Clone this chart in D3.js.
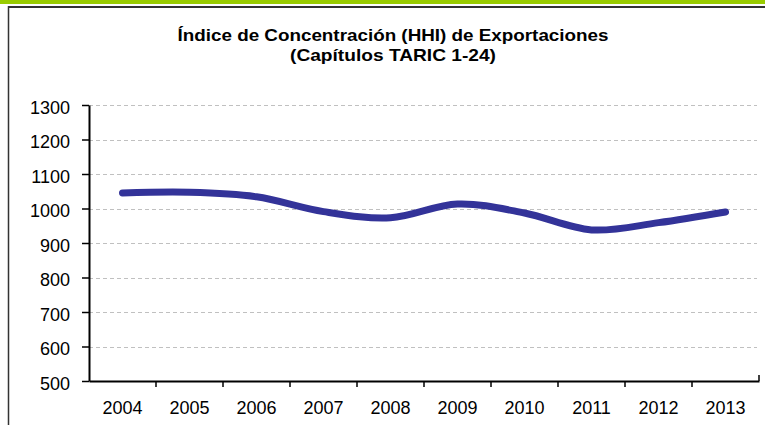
<!DOCTYPE html>
<html><head><meta charset="utf-8">
<script src="https://cdn.jsdelivr.net/npm/d3@7"></script>
<style>body{margin:0;background:#fff}svg{display:block}</style>
</head><body>
<svg id="c" width="765" height="425"></svg>
<script>
const years = ["2004","2005","2006","2007","2008","2009","2010","2011","2012","2013"];
const hhi = [1045, 1047, 1034, 991, 973, 1013, 987, 938, 959, 990];
const yTicks = [500,600,700,800,900,1000,1100,1200,1300];
const titleLines = ["Índice de Concentración (HHI) de Exportaciones", "(Capítulos TARIC 1-24)"];
const titleWidths = [431, 206];

const svg = d3.select("#c");
const W = 765, H = 425;
const m = {l: 89, r: 6, t: 105, b: 44};

svg.append("rect").attr("x",0).attr("y",0).attr("width",W).attr("height",4).attr("fill","#99cc00");
svg.append("line").attr("x1",8).attr("x2",W).attr("y1",7).attr("y2",7).attr("stroke","#333").attr("stroke-width",2);
svg.append("line").attr("x1",8.5).attr("x2",8.5).attr("y1",6).attr("y2",H).attr("stroke","#333").attr("stroke-width",1.5);

const x = d3.scaleBand().domain(years).range([m.l, W - m.r]);
const y = d3.scaleLinear().domain([500,1300]).range([H - m.b, m.t]);

// grid
svg.append("g").selectAll("line").data(yTicks.filter(d=>d>500)).join("line")
  .attr("x1", m.l).attr("x2", W - 8).attr("y1", d=>Math.round(y(d))+0.5).attr("y2", d=>Math.round(y(d))+0.5)
  .attr("stroke","#c0c0c0").attr("stroke-dasharray","4,3");

svg.append("g").selectAll("text").data(titleLines).join("text")
  .attr("x", 393).attr("y",(d,i)=>41 + i*20).attr("text-anchor","middle")
  .attr("font-family","Liberation Sans, Arial, sans-serif").attr("font-weight","bold").attr("font-size",17)
  .attr("textLength",(d,i)=>titleWidths[i]).attr("lengthAdjust","spacingAndGlyphs")
  .attr("fill","#000").text(d=>d);

const yAxis = svg.append("g").attr("transform",`translate(${m.l},0)`)
  .call(d3.axisLeft(y).tickValues(yTicks).tickSize(7).tickSizeOuter(0).tickPadding(12).tickFormat(d3.format("d")));
yAxis.selectAll(".tick text").attr("dy","0.45em");
const xAxis = svg.append("g").attr("transform",`translate(0,${H-m.b})`)
  .call(d3.axisBottom(x).tickSize(0).tickPadding(20));
// band boundary ticks
svg.append("g").selectAll("line").data(years.slice(1)).join("line")
  .attr("x1", d=>x(d)).attr("x2", d=>x(d)).attr("y1", H-m.b).attr("y2", H-m.b+6)
  .attr("stroke","#000").attr("stroke-width",1.5);
svg.append("line").attr("x1", W-m.r).attr("x2", W-m.r).attr("y1", H-m.b-6).attr("y2", H-m.b)
  .attr("stroke","#000").attr("stroke-width",1.5);

[yAxis, xAxis].forEach(g=>{
  g.selectAll("path.domain").attr("stroke","#000").attr("stroke-width",2);
  g.selectAll(".tick line").attr("stroke","#000").attr("stroke-width",1.5);
  g.selectAll("text").attr("font-family","Liberation Sans, Arial, sans-serif").attr("font-size",18).attr("fill","#000");
});

const line = d3.line().x((d,i)=>x(years[i]) + x.bandwidth()/2).y(d=>y(d)).curve(d3.curveCatmullRom.alpha(0));
svg.append("path").datum(hhi).attr("d", line).attr("fill","none")
  .attr("stroke","#333399").attr("stroke-width",7).attr("stroke-linecap","round").attr("stroke-linejoin","round");
</script>
</body></html>
